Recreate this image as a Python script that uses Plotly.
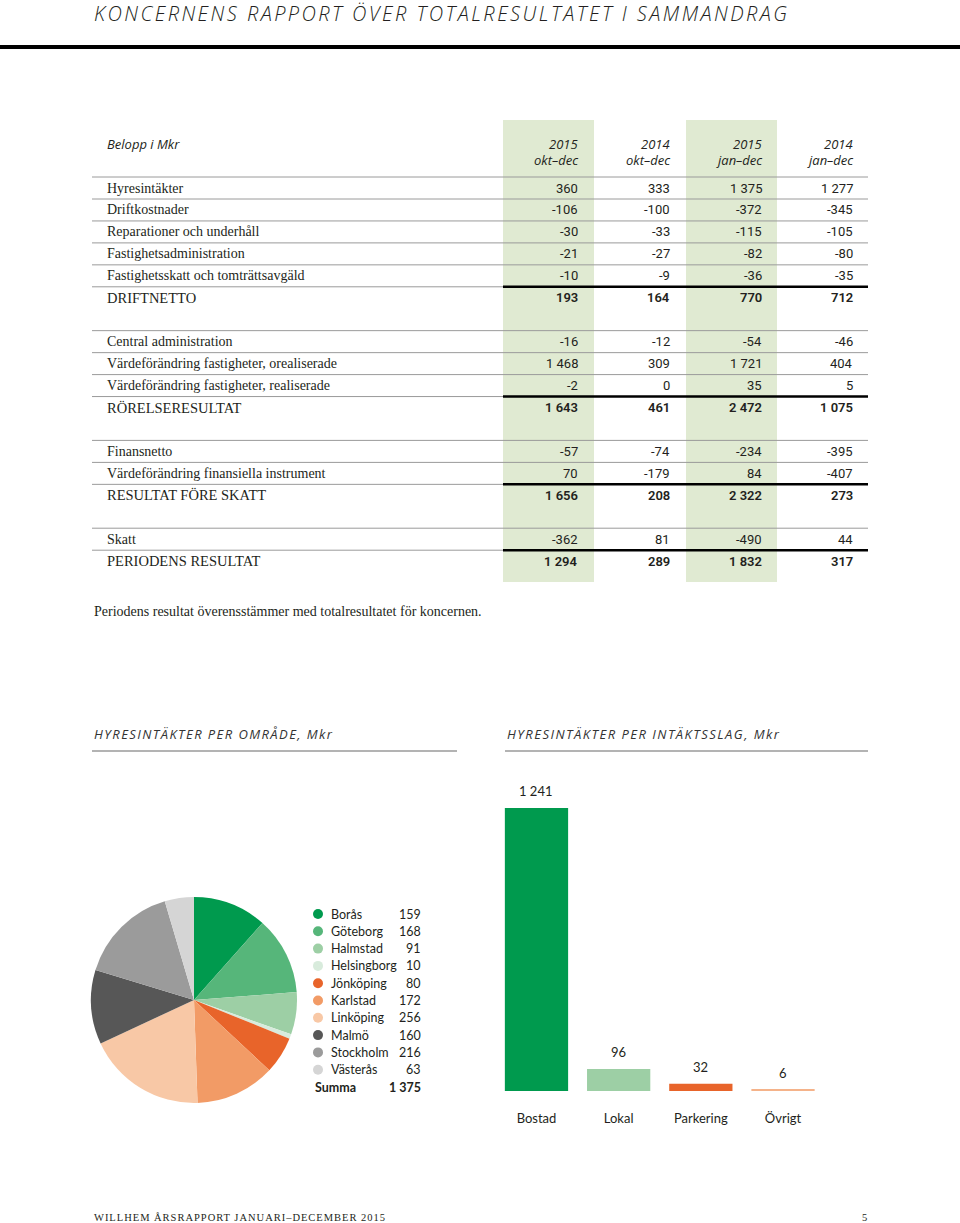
import json
import plotly.graph_objects as go

# ---------------- data ----------------
title_text = "KONCERNENS RAPPORT ÖVER TOTALRESULTATET I SAMMANDRAG"
col_years = ["2015", "2014", "2015", "2014"]
col_periods = ["okt–dec", "okt–dec", "jan–dec", "jan–dec"]

row_labels = [
    "Hyresintäkter", "Driftkostnader", "Reparationer och underhåll",
    "Fastighetsadministration", "Fastighetsskatt och tomträttsavgäld", "DRIFTNETTO",
    "Central administration", "Värdeförändring fastigheter, orealiserade",
    "Värdeförändring fastigheter, realiserade", "RÖRELSERESULTAT",
    "Finansnetto", "Värdeförändring finansiella instrument", "RESULTAT FÖRE SKATT",
    "Skatt", "PERIODENS RESULTAT",
]
okt_dec_2015 = [360, -106, -30, -21, -10, 193, -16, 1468, -2, 1643, -57, 70, 1656, -362, 1294]
okt_dec_2014 = [333, -100, -33, -27, -9, 164, -12, 309, 0, 461, -74, -179, 208, 81, 289]
jan_dec_2015 = [1375, -372, -115, -82, -36, 770, -54, 1721, 35, 2472, -234, 84, 2322, -490, 1832]
jan_dec_2014 = [1277, -345, -105, -80, -35, 712, -46, 404, 5, 1075, -395, -407, 273, 44, 317]
group_sizes = [6, 4, 3, 2]  # last row of each group is a total row

note_text = "Periodens resultat överensstämmer med totalresultatet för koncernen."

header_left = "HYRESINTÄKTER PER OMRÅDE, Mkr"
header_right = "HYRESINTÄKTER PER INTÄKTSSLAG, Mkr"

areas = ["Borås", "Göteborg", "Halmstad", "Helsingborg", "Jönköping", "Karlstad",
         "Linköping", "Malmö", "Stockholm", "Västerås"]
area_values = [159, 168, 91, 10, 80, 172, 256, 160, 216, 63]
area_total = 1375
area_colors = ["#009a4e", "#56b67a", "#9dcfa5", "#d8ebdc", "#e8642a", "#f29b66",
               "#f8c8a6", "#575757", "#9b9b9b", "#d5d5d5"]

types = ["Bostad", "Lokal", "Parkering", "Övrigt"]
type_values = [1241, 96, 32, 6]
type_colors = ["#009a4e", "#9dcfa5", "#e8642a", "#f5b38a"]

footer_text = "WILLHEM ÅRSRAPPORT JANUARI–DECEMBER 2015"
page_no = "5"

# ---------------- helpers ----------------
W, H = 960, 1223
INK = "#231f20"


def px(x):
    return x / W


def py(y):
    return 1 - y / H


def fmt(v):
    s = f"{abs(v):,}".replace(",", " ")
    return ("-" if v < 0 else "") + s


fig = go.Figure()
annotations = []
shapes = []


def txt(x, y, text, anchor="left", font=None, **kw):
    d = dict(x=x, y=y, xref="x2", yref="y2", text=text, showarrow=False,
             xanchor=anchor, yanchor="middle", align=anchor if anchor != "center" else "center",
             font=font)
    d.update(kw)
    annotations.append(d)


# ---------------- title ----------------
txt(92, 13, title_text, font=dict(family="Open Sans", size=20, color=INK, style="italic", weight=300))
shapes.append(dict(type="line", xref="x2", yref="y2", x0=0, x1=960, y0=47, y1=47,
                   line=dict(color="#000", width=4)))

# ---------------- table ----------------
col_right = [580, 672, 764, 855]
cols = [okt_dec_2015, okt_dec_2014, jan_dec_2015, jan_dec_2014]
for xb in (503, 686):
    shapes.append(dict(type="rect", xref="x2", yref="y2", x0=xb, x1=xb + 91, y0=120, y1=582,
                       fillcolor="#e0ead2", line=dict(width=0), layer="below"))

hdr_font = dict(family="Open Sans", size=13, color=INK, style="italic")
txt(105, 144, "Belopp i Mkr", font=hdr_font)
for xr, yr, per in zip(col_right, col_years, col_periods):
    txt(xr, 144, yr, anchor="right", font=hdr_font)
    txt(xr, 160, per, anchor="right", font=hdr_font)

slots = []
total_rows = set()
first_in_group = set()
slot = 0
idx = 0
for n in group_sizes:
    first_in_group.add(idx)
    for k in range(n):
        slots.append(slot)
        if k == n - 1:
            total_rows.add(idx)
        slot += 1
        idx += 1
    slot += 1

ROW0, STEP = 188, 21.95
for i, lab in enumerate(row_labels):
    y = ROW0 + STEP * slots[i]
    is_total = i in total_rows
    txt(105, y, lab, font=dict(family="Liberation Serif", size=14.5 if is_total else 14, color=INK))
    for xr, col in zip(col_right, cols):
        txt(xr, y, fmt(col[i]), anchor="right",
            font=dict(family="Roboto", size=13, color=INK, weight=600 if is_total else "normal"))
    if i in first_in_group:
        shapes.append(dict(type="line", xref="x2", yref="y2", x0=92, x1=868, y0=y - 11, y1=y - 11,
                           line=dict(color="#9a9a9a", width=1)))
    if not is_total:
        shapes.append(dict(type="line", xref="x2", yref="y2", x0=92, x1=868, y0=y + 11, y1=y + 11,
                           line=dict(color="#9a9a9a", width=1)))
    else:
        shapes.append(dict(type="line", xref="x2", yref="y2", x0=503, x1=868, y0=y - 11, y1=y - 11,
                           line=dict(color="#000", width=2.5)))

txt(92, 611, note_text, font=dict(family="Liberation Serif", size=14, color=INK))

# ---------------- section headers ----------------
for xl, xr, t in ((92, 457, header_left), (505, 868, header_right)):
    txt(xl, 734, t, font=dict(family="Open Sans", size=13, color="#333", style="italic"))
    shapes.append(dict(type="line", xref="x2", yref="y2", x0=xl, x1=xr, y0=751, y1=751,
                       line=dict(color="#9a9a9a", width=1.5)))

# ---------------- pie ----------------
fig.add_trace(go.Pie(labels=areas, values=area_values, sort=False, direction="clockwise",
                     rotation=0, textinfo="none", hoverinfo="label+value",
                     marker=dict(colors=area_colors, line=dict(width=0)),
                     domain=dict(x=[px(91), px(297)], y=[py(1103), py(897)]),
                     showlegend=False))

LEG0, LSTEP = 914, 17.3
leg_y = [LEG0 + LSTEP * k for k in range(len(areas))]
fig.add_trace(go.Scatter(x=[318] * len(areas), y=leg_y, mode="markers", xaxis="x2", yaxis="y2",
                         marker=dict(color=area_colors, size=10), hoverinfo="skip",
                         showlegend=False))
leg_font = dict(family="Lato", size=12.5, color=INK)
for name, val, y in zip(areas, area_values, leg_y):
    txt(329, y, name, font=leg_font)
    txt(423, y, fmt(val), anchor="right", font=leg_font)
ys = LEG0 + LSTEP * len(areas)
txt(313, ys, "<b>Summa</b>", font=leg_font)
txt(423, ys, "<b>" + fmt(area_total) + "</b>", anchor="right", font=leg_font)

# ---------------- bars ----------------
fig.add_trace(go.Bar(x=types, y=type_values, marker=dict(color=type_colors, line=dict(width=0)),
                     width=0.77, showlegend=False, hoverinfo="x+y"))
for t, v in zip(types, type_values):
    annotations.append(dict(x=t, y=v, xref="x", yref="y", text=fmt(v), showarrow=False,
                            yshift=17, font=dict(family="Lato", size=13, color=INK)))

# ---------------- footer ----------------
txt(92, 1217, footer_text, font=dict(family="Liberation Serif", size=10.5, color=INK))
txt(869, 1217, page_no, anchor="right", font=dict(family="Liberation Serif", size=10.5, color=INK))

fig.update_layout(
    width=W, height=H, margin=dict(l=0, r=0, t=0, b=0),
    paper_bgcolor="white", plot_bgcolor="rgba(0,0,0,0)",
    xaxis=dict(domain=[px(495.4), px(824.1)], type="category", showgrid=False, zeroline=False,
               showline=False, ticks="", tickfont=dict(family="Lato", size=13, color=INK),
               ticklabelstandoff=18, fixedrange=True),
    yaxis=dict(domain=[py(1091), py(808)], range=[0, 1241], visible=False, fixedrange=True),
    xaxis2=dict(domain=[0, 1], range=[0, W], visible=False, anchor="y2", fixedrange=True),
    yaxis2=dict(domain=[0, 1], range=[H, 0], visible=False, anchor="x2", fixedrange=True),
    annotations=annotations, shapes=shapes, showlegend=False,
)

# target widths (px) of the letter-spaced texts in the reference
spaced = {title_text: 693, header_left: 238, header_right: 272, footer_text: 291}

post = """
document.documentElement.style.margin='0';
document.body.style.margin='0';
document.body.style.padding='0';
document.documentElement.style.overflow='hidden';
var SPACED = %s;
function spaceIt(){
  var gd = document.getElementById('{plot_id}');
  if(!gd) return;
  gd.querySelectorAll('text.annotation-text').forEach(function(t){
    var s = t.textContent;
    if(SPACED[s]){
      t.style.letterSpacing = '0px';
      var L = t.getComputedTextLength();
      var ls = (SPACED[s] - L) / (s.length - 1);
      if(ls > 0) t.style.letterSpacing = ls + 'px';
    }
  });
}
spaceIt();
setTimeout(spaceIt, 50);
setTimeout(spaceIt, 400);
""" % json.dumps(spaced, ensure_ascii=False)

fig.write_html("out.html", post_script=post, config={"displayModeBar": False})
